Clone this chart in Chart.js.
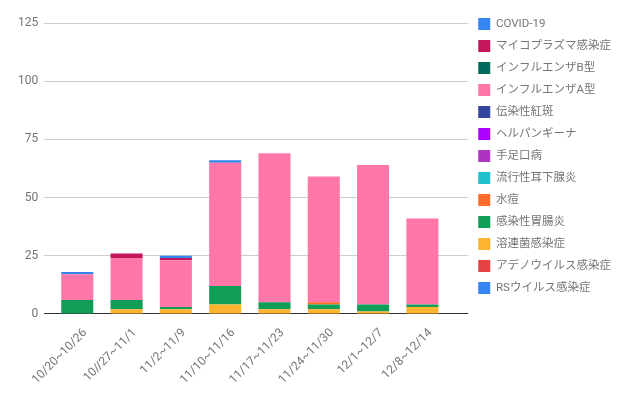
<!DOCTYPE html>
<html>
<head>
<meta charset="utf-8">
<script src="https://cdn.jsdelivr.net/npm/chart.js@4"></script>
<style>
  html, body { margin: 0; padding: 0; background: #fff; }
  #wrap { width: 638px; height: 393px; }
</style>
</head>
<body>
<div id="wrap"><canvas id="chart" width="638" height="393"></canvas></div>
<script>
// weekly reports, stacked from the bottom up
const WEEKS = ['10/20~10/26', '10//27~11/1', '11/2~11/9', '11/10~11/16', '11/17~11/23', '11/24~11/30', '12/1~12/7', '12/8~12/14'];

const RS        = [0, 0, 0, 0, 0, 0, 0, 0];
const ADENO     = [0, 0, 0, 0, 0, 0, 0, 0];
const STREP     = [0, 2, 2, 4, 2, 2, 1, 3];
const GASTRO    = [6, 4, 1, 8, 3, 2, 3, 1];
const VARICELLA = [0, 0, 0, 0, 0, 1, 0, 0];
const MUMPS     = [0, 0, 0, 0, 0, 0, 0, 0];
const HFMD      = [0, 0, 0, 0, 0, 0, 0, 0];
const HERPANG   = [0, 0, 0, 0, 0, 0, 0, 0];
const ERYTHEMA  = [0, 0, 0, 0, 0, 0, 0, 0];
const FLU_A     = [11, 18, 20, 53, 64, 54, 60, 37];
const FLU_B     = [0, 0, 0, 0, 0, 0, 0, 0];
const MYCO      = [0, 2, 1, 0, 0, 0, 0, 0];
const COVID     = [1, 0, 1, 1, 0, 0, 0, 0];

const Y_TICKS = [0, 25, 50, 75, 100, 125];

const SERIES = [
  ['RSウイルス感染症', RS, '#3385f0'],
  ['アデノウイルス感染症', ADENO, '#e54343'],
  ['溶連菌感染症', STREP, '#fcb431'],
  ['感染性胃腸炎', GASTRO, '#0f9d58'],
  ['水痘', VARICELLA, '#ff6d2a'],
  ['流行性耳下腺炎', MUMPS, '#22c0cc'],
  ['手足口病', HFMD, '#ae34c0'],
  ['ヘルパンギーナ', HERPANG, '#aa00ff'],
  ['伝染性紅斑', ERYTHEMA, '#33459f'],
  ['インフルエンザA型', FLU_A, '#ff77a9'],
  ['インフルエンザB型', FLU_B, '#00695c'],
  ['マイコプラズマ感染症', MYCO, '#c2185b'],
  ['COVID-19', COVID, '#3385f0'],
];

const FONT = "Roboto, 'Noto Sans CJK JP', sans-serif";
const TEXT = '#757575';

const datasets = SERIES.map(([label, data, color]) => ({
  label, data,
  backgroundColor: color,
  borderWidth: 0,
  barPercentage: 0.65,
  categoryPercentage: 1,
}));

const gridColor = ctx => (ctx.tick && ctx.tick.value === 0) ? '#333' : '#cccccc';

// x is linear over week indexes so the plot keeps an inner margin left and right
new Chart(document.getElementById('chart'), {
  type: 'bar',
  data: { labels: WEEKS.map((w, i) => i), datasets },
  options: {
    responsive: false,
    animation: false,
    layout: { padding: { left: 0, top: 8, right: 17, bottom: -6 } },
    plugins: {
      tooltip: { enabled: false },
      legend: {
        position: 'right',
        align: 'start',
        reverse: true,
        labels: {
          color: TEXT,
          font: { family: FONT, size: 11.5 },
          boxWidth: 12,
          boxHeight: 12,
          padding: 10,
        }
      }
    },
    scales: {
      x: {
        type: 'linear',
        stacked: true,
        offset: false,
        min: -0.67, max: 7.93,
        afterBuildTicks: s => { s.ticks = WEEKS.map((w, i) => ({ value: i })); },
        grid: { display: false, drawTicks: false, offset: false },
        border: { display: false },
        ticks: {
          color: TEXT, font: { family: FONT, size: 12 },
          minRotation: 45, maxRotation: 45, autoSkip: false,
          padding: 12, labelOffset: 8,
          callback: v => WEEKS[v]
        }
      },
      y: {
        stacked: true,
        min: 0, max: 125,
        afterBuildTicks: s => { s.ticks = Y_TICKS.map(v => ({ value: v })); },
        grid: { color: gridColor, drawTicks: false },
        border: { display: false },
        // blank title only reserves room on the left
        title: { display: true, text: ' ', font: { size: 10 }, padding: 0 },
        ticks: { color: TEXT, font: { family: FONT, size: 12 }, padding: 6 }
      },
      // empty spacer axis: room above the plot
      x2: {
        type: 'linear', position: 'top', min: 0, max: 1,
        grid: { drawOnChartArea: false, tickColor: 'transparent', tickLength: 15 },
        border: { display: false },
        ticks: { display: false }
      }
    }
  }
});
</script>
</body>
</html>
